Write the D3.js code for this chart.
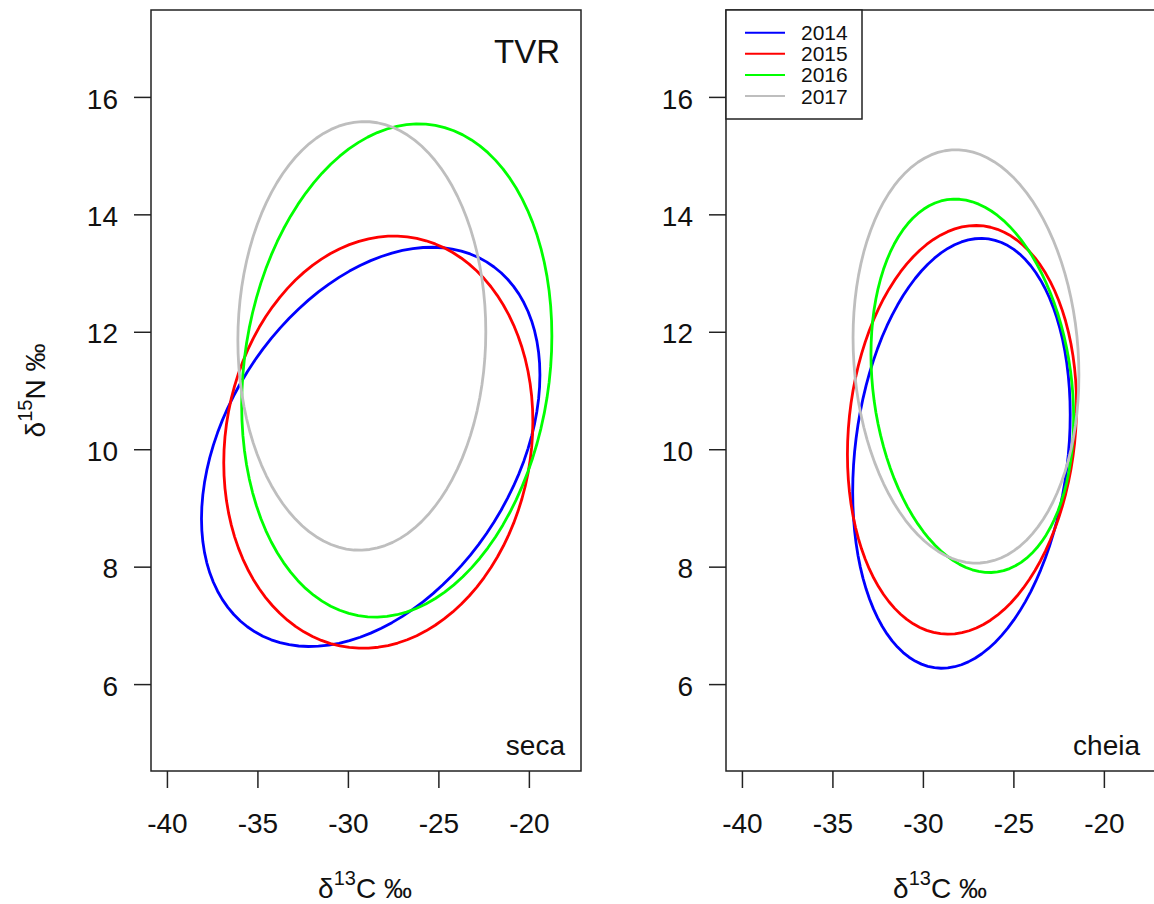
<!DOCTYPE html>
<html>
<head>
<meta charset="utf-8">
<script src="https://cdn.jsdelivr.net/npm/d3@7"></script>
<style>
  html, body { margin: 0; padding: 0; background: #fff; }
  svg { display: block; font-family: "Liberation Sans", Arial, sans-serif; }
</style>
</head>
<body>
<svg id="chart" width="1154" height="904"></svg>
<script>
// Years and their colours
const years = ["2014", "2015", "2016", "2017"];
const yearColors = ["#0000FF", "#FF0000", "#00FF00", "#BEBEBE"];

// Axis ticks
const xTicks = [-40, -35, -30, -25, -20];
const yTicks = [6, 8, 10, 12, 14, 16];
const xLim = [-40, -18];
const yLim = [5, 17];

// Dry season (seca): ellipse centre, half-extents and correlation per year
const secaMeanC   = [-28.74, -28.32, -27.30, -29.23];
const secaMeanN   = [10.04, 10.12, 11.34, 11.93];
const secaSpreadC = [9.35, 8.54, 8.57, 6.85];
const secaSpreadN = [3.40, 3.51, 4.20, 3.65];
const secaCorr    = [0.36, 0.10, 0.14, 0.02];

// Flood season (cheia)
const cheiaMeanC   = [-27.87, -27.84, -27.27, -27.62];
const cheiaMeanN   = [9.93, 10.33, 11.08, 11.58];
const cheiaSpreadC = [6.01, 6.33, 5.60, 6.24];
const cheiaSpreadN = [3.66, 3.48, 3.18, 3.52];
const cheiaCorr    = [0.18, 0.12, -0.17, -0.09];

const svg = d3.select("#chart");
const W = 430, H = 761, TOP = 10;
const FONT = 28;

// R-style 4% axis padding
const xPad = (xLim[1] - xLim[0]) * 0.04;
const yPad = (yLim[1] - yLim[0]) * 0.04;
const x = d3.scaleLinear().domain([xLim[0] - xPad, xLim[1] + xPad]).range([0, W]);
const y = d3.scaleLinear().domain([yLim[0] - yPad, yLim[1] + yPad]).range([H, 0]);

// plain hyphen-minus tick labels
const fmt = d => String(d);

// Ellipse outline from centre, half-extents and correlation (Cholesky form)
function ellipse(mc, mn, sc, sn, r) {
  const k = Math.sqrt(1 - r * r);
  return d3.range(100).map(i => {
    const t = 2 * Math.PI * i / 100;
    return [mc + sc * Math.cos(t), mn + sn * (r * Math.cos(t) + k * Math.sin(t))];
  });
}

const line = d3.line().x(d => x(d[0])).y(d => y(d[1])).curve(d3.curveLinearClosed);

function panel(left, data, label, yTitle) {
  const g = svg.append("g").attr("transform", `translate(${left},${TOP})`);

  // ellipses
  years.forEach((yr, i) => {
    g.append("path")
      .attr("d", line(ellipse(data.mc[i], data.mn[i], data.sc[i], data.sn[i], data.r[i])))
      .attr("fill", "none")
      .attr("stroke", yearColors[i])
      .attr("stroke-width", 2.8)
      .attr("stroke-linejoin", "round");
  });

  // x axis
  const xa = g.append("g").attr("transform", `translate(0,${H})`)
    .call(d3.axisBottom(x).tickValues(xTicks).tickSize(17).tickFormat(fmt));
  xa.select(".domain").remove();
  xa.selectAll("line").attr("stroke", "#222").attr("stroke-width", 1.5);
  xa.selectAll("text").attr("y", 62).attr("dy", 0)
    .attr("fill", "#111").style("font-size", FONT + "px")
    .style("font-family", "'Liberation Sans', Arial, sans-serif");

  // y axis
  const ya = g.append("g")
    .call(d3.axisLeft(y).tickValues(yTicks).tickSize(17).tickFormat(fmt));
  ya.select(".domain").remove();
  ya.selectAll("line").attr("stroke", "#222").attr("stroke-width", 1.5);
  ya.selectAll("text").attr("x", -33).attr("dy", "0.4em")
    .attr("fill", "#111").style("font-size", FONT + "px")
    .style("font-family", "'Liberation Sans', Arial, sans-serif");

  // frame
  g.append("rect").attr("x", 0).attr("y", 0).attr("width", W).attr("height", H)
    .attr("fill", "none").attr("stroke", "#222").attr("stroke-width", 1.5);

  // season label
  g.append("text").attr("x", W - 16).attr("y", H - 16)
    .attr("text-anchor", "end").attr("fill", "#111")
    .style("font-size", FONT + "px").text(label);

  // x title
  const xt = g.append("text").attr("x", W / 2 - 1).attr("y", 888)
    .attr("text-anchor", "middle").attr("fill", "#111").style("font-size", FONT + "px");
  xt.append("tspan").text("δ");
  xt.append("tspan").attr("dy", -13).style("font-size", "20px").text("13");
  xt.append("tspan").attr("dy", 13).text("C ‰");

  if (yTitle) {
    const yt = svg.append("text")
      .attr("transform", `translate(45,${TOP + H / 2}) rotate(-90)`)
      .attr("text-anchor", "middle").attr("fill", "#111").style("font-size", FONT + "px");
    yt.append("tspan").text("δ");
    yt.append("tspan").attr("dy", -13).style("font-size", "20px").text("15");
    yt.append("tspan").attr("dy", 13).text("N ‰");
  }
  return g;
}

const left = panel(151, { mc: secaMeanC, mn: secaMeanN, sc: secaSpreadC, sn: secaSpreadN, r: secaCorr }, "seca", true);
const right = panel(726, { mc: cheiaMeanC, mn: cheiaMeanN, sc: cheiaSpreadC, sn: cheiaSpreadN, r: cheiaCorr }, "cheia", false);

// site label
left.append("text").attr("x", W - 21).attr("y", 53)
  .attr("text-anchor", "end").attr("fill", "#111")
  .style("font-size", "33px").text("TVR");

// legend
const lg = right.append("g");
lg.append("rect").attr("x", 0).attr("y", 0).attr("width", 136).attr("height", 109)
  .attr("fill", "#fff").attr("stroke", "#222").attr("stroke-width", 1.5);
years.forEach((yr, i) => {
  const ly = 22.7 + i * 21.1;
  lg.append("line").attr("x1", 19).attr("x2", 59).attr("y1", ly).attr("y2", ly)
    .attr("stroke", yearColors[i]).attr("stroke-width", 2);
  lg.append("text").attr("x", 75).attr("y", ly + 7.5)
    .attr("fill", "#111").style("font-size", "21px").text(yr);
});
</script>
</body>
</html>
